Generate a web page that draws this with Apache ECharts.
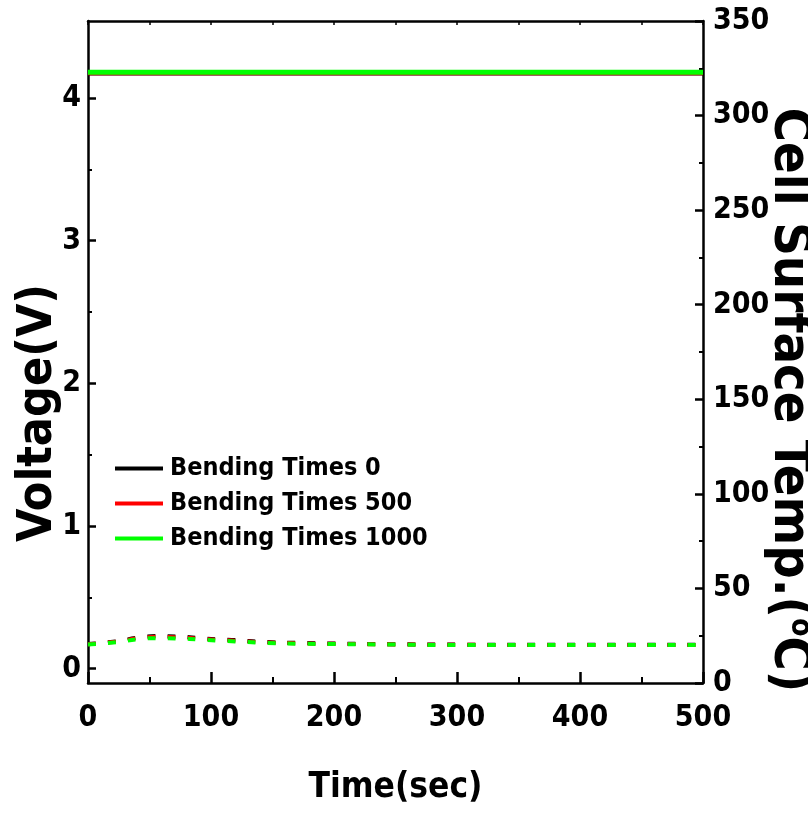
<!DOCTYPE html>
<html>
<head>
<meta charset="utf-8">
<script src="https://cdn.jsdelivr.net/npm/echarts@6/dist/echarts.min.js"></script>
<style>html,body{margin:0;padding:0;background:#fff}#c{width:808px;height:821px}</style>
</head>
<body>
<div id="c"></div>
<script>
const seriesNames = ['Bending Times 0', 'Bending Times 500', 'Bending Times 1000'];
const voltageTimes = [0, 500];
const voltage0 = [4.175, 4.175];
const voltage500 = [4.178, 4.178];
const voltage1000 = [4.18, 4.18];
const tempTimes = [0, 25, 40, 57, 75, 90, 105, 122, 140, 170, 200, 250, 300, 400, 500];
const temp0 = [20.6, 22.2, 23.9, 24.8, 24.5, 23.8, 23.1, 22.6, 21.8, 21.2, 20.9, 20.5, 20.3, 20.2, 20.2];
const temp500 = [20.5, 22.0, 23.6, 24.4, 24.1, 23.4, 22.8, 22.3, 21.6, 21.0, 20.7, 20.4, 20.2, 20.1, 20.1];
const temp1000 = [20.4, 21.7, 23.1, 23.7, 23.5, 23.0, 22.4, 21.9, 21.3, 20.8, 20.6, 20.3, 20.1, 20.1, 20.1];
const voltageTicks = [0, 1, 2, 3, 4];
const voltageMinorTicks = [0.5, 1.5, 2.5, 3.5];
const colors = ['#000000', '#ff0000', '#00ff00'];

const FONT = '"Liberation Sans Narrow", "Arial Narrow", "DejaVu Sans Condensed", sans-serif';
const pair = (xs, ys) => xs.map((x, i) => [x, ys[i]]);
const vData = [voltage0, voltage500, voltage1000];
const tData = [temp0, temp500, temp1000];

const series = [];
for (let i = 0; i < 3; i++) {
  series.push({
    name: seriesNames[i], type: 'line', xAxisIndex: 0, yAxisIndex: 0,
    data: pair(voltageTimes, vData[i]), showSymbol: false, symbol: 'none',
    lineStyle: { color: colors[i], width: 5 }, itemStyle: { color: colors[i] }, z: 2 + i
  });
}
for (let i = 0; i < 3; i++) {
  series.push({
    name: seriesNames[i], type: 'line', xAxisIndex: 0, yAxisIndex: 1,
    data: pair(tempTimes, tData[i]), showSymbol: false, symbol: 'none', smooth: true,
    lineStyle: { color: colors[i], width: 4, type: [8, 12] }, itemStyle: { color: colors[i] }, z: 2 + i
  });
}

const axisLine = { show: true, onZero: false, lineStyle: { color: '#000', width: 2.5 } };
const labelStyle = { color: '#000', fontFamily: FONT, fontWeight: 'bold', fontSize: 30 };

const chart = echarts.init(document.getElementById('c'));
chart.setOption({
  animation: false,
  grid: { left: 88, right: 105, top: 21, bottom: 138, containLabel: false, outerBoundsMode: 'none' },
  legend: {
    data: seriesNames.map(n => ({ name: n, icon: 'rect' })),
    orient: 'vertical', left: 110, top: 446,
    itemWidth: 48, itemHeight: 4, itemGap: 0,
    textStyle: { color: '#000', fontFamily: FONT, fontWeight: 'bold', fontSize: 25, lineHeight: 35, padding: [0, 0, 0, 2] },
    selectedMode: false
  },
  xAxis: [
    {
      type: 'value', position: 'bottom', min: 0, max: 500, interval: 100,
      axisLine, splitLine: { show: false },
      axisTick: { show: true, inside: true, length: 11, lineStyle: { color: '#000', width: 2.5 } },
      minorTick: { show: true, splitNumber: 2, length: 6, lineStyle: { color: '#000', width: 2 } },
      axisLabel: Object.assign({ margin: 20 }, labelStyle),
      name: 'Time(sec)', nameLocation: 'middle', nameGap: 87, nameMoveOverlap: false,
      nameTextStyle: { color: '#000', fontFamily: FONT, fontWeight: 'bold', fontSize: 35 }
    },
    {
      type: 'value', position: 'top', min: 0, max: 500, interval: 100,
      axisLine, splitLine: { show: false },
      axisTick: { show: true, inside: true, length: 4, lineStyle: { color: '#000', width: 1.5 } },
      minorTick: { show: true, splitNumber: 2, length: 4, lineStyle: { color: '#000', width: 1.5 } },
      axisLabel: { show: false }
    }
  ],
  yAxis: [
    {
      type: 'value', position: 'left', min: -0.1, max: 4.54,
      axisLine, splitLine: { show: false },
      axisTick: { show: true, inside: true, length: 8, customValues: voltageTicks, lineStyle: { color: '#000', width: 2.5 } },
      axisLabel: Object.assign({ margin: 7, customValues: voltageTicks }, labelStyle),
      name: 'Voltage(V)', nameLocation: 'middle', nameGap: 25, nameMoveOverlap: false,
      nameTextStyle: { color: '#000', fontFamily: FONT, fontWeight: 'bold', fontSize: 48, padding: [0, 122, 0, 0] }
    },
    {
      type: 'value', position: 'right', min: 0, max: 350, interval: 50,
      axisLine, splitLine: { show: false },
      axisTick: { show: true, inside: true, length: 8, lineStyle: { color: '#000', width: 2.5 } },
      minorTick: { show: true, splitNumber: 2, length: 4, lineStyle: { color: '#000', width: 2 } },
      axisLabel: Object.assign({ margin: 10 }, labelStyle),
      name: 'Cell Surface Temp.({sup|o}C)', nameLocation: 'middle', nameGap: 60, nameRotate: -90, nameMoveOverlap: false,
      nameTextStyle: {
        color: '#000', fontFamily: FONT, fontWeight: 'bold', fontSize: 52, padding: [0, 0, 0, 96],
        rich: { sup: { fontFamily: FONT, fontWeight: 'bold', fontSize: 30, verticalAlign: 'top', padding: [0, 0, 20, 0], color: '#000' } }
      }
    },
    {
      type: 'value', position: 'left', min: -0.1, max: 4.54,
      axisLine: { show: false, onZero: false }, splitLine: { show: false },
      axisTick: { show: true, inside: true, length: 4, customValues: voltageMinorTicks, lineStyle: { color: '#000', width: 2 } },
      axisLabel: { show: true, customValues: voltageMinorTicks, formatter: () => '' }
    }
  ],
  series
});
</script>
</body>
</html>
